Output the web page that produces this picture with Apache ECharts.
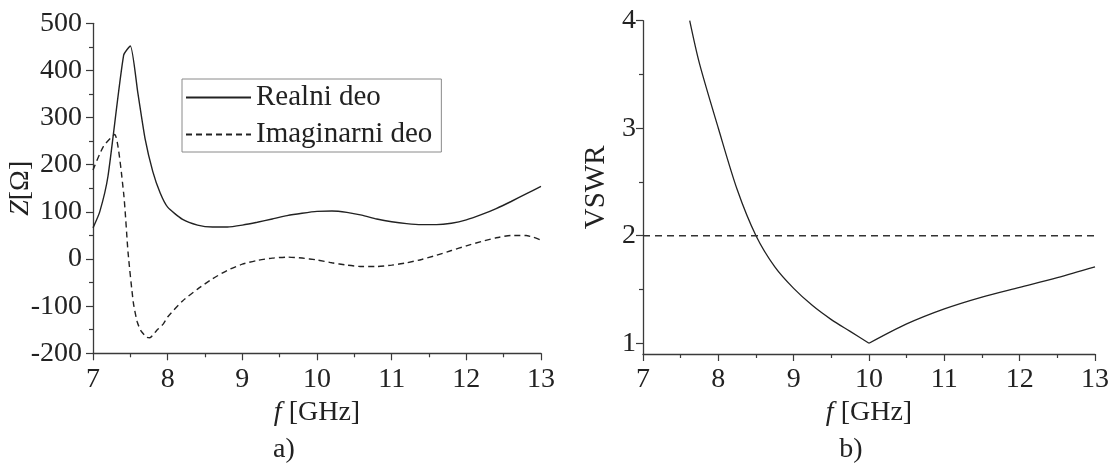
<!DOCTYPE html>
<html>
<head>
<meta charset="utf-8">
<script src="https://cdn.jsdelivr.net/npm/echarts@6/dist/echarts.min.js"></script>
<style>html,body{margin:0;padding:0;background:#fff}#c{width:1112px;height:468px}</style>
</head>
<body>
<div id="c"></div>
<script>
// ---- data ----
const realF = [7.0,7.09,7.2,7.41,7.5,7.6,7.7,7.8,7.9,8.0,8.2,8.4,8.6,8.8,9.0,9.2,9.4,9.6,9.8,10.0,10.2,10.4,10.6,10.8,11.0,11.2,11.4,11.6,11.8,12.0,12.2,12.4,12.6,12.8,13.0];
const realZ = [66,100,175,432,452,353,253,186,140,110,84,72,68,68,72,78,85,92,97,101,102,99,93,85,79,75,73,73,76,83,94,107,122,138,154];
const imagF = [7.0,7.14,7.29,7.41,7.47,7.54,7.59,7.64,7.72,7.76,7.85,7.94,8.0,8.2,8.4,8.6,8.8,9.0,9.2,9.4,9.6,9.8,10.0,10.2,10.4,10.6,10.8,11.0,11.2,11.4,11.6,11.8,12.0,12.2,12.4,12.6,12.8,12.9,13.0];
const imagZ = [189,239,264,140,13,-92,-132,-152,-166,-167,-152,-138,-123,-89,-64,-42,-24,-11,-3,2,4,2,-2,-8,-13,-16,-16,-13,-8,-1,8,18,28,37,45,50,50,46,40];
// VSWR: falling branch down to the minimum at 10 GHz, then rising branch
const vswrLowF = [7.62,7.75,8.0,8.25,8.5,8.75,9.0,9.25,9.5,9.75,10.0];
const vswrLowV = [4.0,3.6,3.0,2.43,2.0,1.71,1.51,1.35,1.22,1.11,1.0];
const vswrHighF = [10.0,10.5,11.0,11.5,12.0,12.5,13.0];
const vswrHighV = [1.0,1.18,1.32,1.43,1.52,1.61,1.71];
const limitF = [7, 13];
const limitV = [2, 2];
const seriesNames = ['Realni deo', 'Imaginarni deo'];
const zTicks = [-200,-100,0,100,200,300,400,500];
const vswrTicks = [1,2,3,4];
const vswrMinor = [1.5,2.5,3.5];
const panelLabels = ['a)', 'b)'];

const zip = (a, b) => a.map((v, i) => [v, b[i]]);
const FONT = 'Liberation Serif';
const INK = '#222';
const AX = '#3a3a3a';
const LBL = 28;

const axisCommon = {
  axisLine: {show: true, onZero: false, lineStyle: {color: AX, width: 1.3}},
  axisTick: {show: true, length: 7, lineStyle: {color: AX, width: 1.2}},
  minorTick: {show: true, splitNumber: 2, length: 4, lineStyle: {color: AX, width: 1.2}},
  splitLine: {show: false},
  axisLabel: {color: INK, fontFamily: FONT, fontSize: LBL},
  nameTextStyle: {color: INK, fontFamily: FONT, fontSize: 28}
};

const xName = {
  name: '{i|f} [GHz]',
  nameLocation: 'middle',
  nameGap: 41,
  nameTextStyle: {color: INK, fontFamily: FONT, fontSize: 28,
    rich: {i: {fontStyle: 'italic', fontFamily: FONT, fontSize: 28, color: INK}}}
};

const chart = echarts.init(document.getElementById('c'), null, {renderer: 'canvas'});
chart.setOption({
  animation: false,
  backgroundColor: '#fff',
  grid: [
    {left: 93, top: 23.3, width: 448, height: 330, containLabel: false, outerBoundsMode: 'none'},
    {left: 643, top: 20.7, width: 452, height: 333.3, containLabel: false, outerBoundsMode: 'none'}
  ],
  legend: {
    show: true,
    data: seriesNames,
    orient: 'vertical',
    left: 182, top: 79,
    itemWidth: 65, itemHeight: 14, itemGap: 8,
    padding: [4, 9, 3, 3],
    borderColor: '#8a8a8a', borderWidth: 1,
    itemStyle: {opacity: 0},
    textStyle: {color: INK, fontFamily: FONT, fontSize: 29}
  },
  xAxis: [
    Object.assign({}, axisCommon, xName, {gridIndex: 0, type: 'value', min: 7, max: 13, interval: 1,
      axisLabel: Object.assign({}, axisCommon.axisLabel, {margin: 12})}),
    Object.assign({}, axisCommon, xName, {gridIndex: 1, type: 'value', min: 7, max: 13, interval: 1,
      axisLabel: Object.assign({}, axisCommon.axisLabel, {margin: 12})})
  ],
  yAxis: [
    Object.assign({}, axisCommon, {gridIndex: 0, type: 'value', min: zTicks[0], max: zTicks[zTicks.length-1], interval: 100,
      name: '{i|Z}[Ω]', nameLocation: 'middle', nameGap: 58, nameRotate: 90, nameMoveOverlap: false,
      nameTextStyle: {color: INK, fontFamily: FONT, fontSize: 28,
        rich: {i: {fontStyle: 'italic', fontFamily: FONT, fontSize: 28, color: INK}}},
      axisLabel: Object.assign({}, axisCommon.axisLabel, {margin: 11})}),
    Object.assign({}, axisCommon, {gridIndex: 1, type: 'value', position: 'left', min: 0.9, max: 4,
      name: 'VSWR', nameLocation: 'middle', nameGap: 32, nameRotate: 90,
      nameTextStyle: {color: INK, fontFamily: FONT, fontSize: 29},
      minorTick: {show: false},
      axisTick: {show: true, length: 7, lineStyle: {color: AX, width: 1.2}, customValues: vswrTicks},
      axisLabel: Object.assign({}, axisCommon.axisLabel, {margin: 7, customValues: vswrTicks})}),
    {gridIndex: 1, type: 'value', position: 'left', min: 0.9, max: 4,
      axisLine: {show: false, onZero: false}, splitLine: {show: false}, minorTick: {show: false},
      axisLabel: {show: false, customValues: vswrMinor},
      axisTick: {show: true, length: 4, lineStyle: {color: AX, width: 1.2}, customValues: vswrMinor}}
  ],
  series: [
    {name: seriesNames[0], type: 'line', xAxisIndex: 0, yAxisIndex: 0, data: zip(realF, realZ),
      symbol: 'none', smooth: 0.2, lineStyle: {color: INK, width: 1.4, type: 'solid'}, itemStyle: {color: INK}},
    {name: seriesNames[1], type: 'line', xAxisIndex: 0, yAxisIndex: 0, data: zip(imagF, imagZ),
      symbol: 'none', smooth: 0.2, lineStyle: {color: INK, width: 1.4, type: [6, 4]}, itemStyle: {color: INK}},
    {name: 'VSWR', type: 'line', xAxisIndex: 1, yAxisIndex: 1, data: zip(vswrLowF, vswrLowV),
      symbol: 'none', smooth: 0.3, lineStyle: {color: INK, width: 1.3}},
    {name: 'VSWR2', type: 'line', xAxisIndex: 1, yAxisIndex: 1, data: zip(vswrHighF, vswrHighV),
      symbol: 'none', smooth: 0.3, lineStyle: {color: INK, width: 1.3}},
    {name: 'VSWR=2', type: 'line', xAxisIndex: 1, yAxisIndex: 1, data: zip(limitF, limitV),
      symbol: 'none', lineStyle: {color: '#333', width: 1.3, type: [7, 5]}}
  ],
  graphic: [
    {type: 'text', x: 284, y: 450, style: {text: panelLabels[0], font: '28px "Liberation Serif"', fill: INK, textAlign: 'center', textVerticalAlign: 'middle'}},
    {type: 'text', x: 851, y: 450, style: {text: panelLabels[1], font: '28px "Liberation Serif"', fill: INK, textAlign: 'center', textVerticalAlign: 'middle'}}
  ]
});
</script>
</body>
</html>
